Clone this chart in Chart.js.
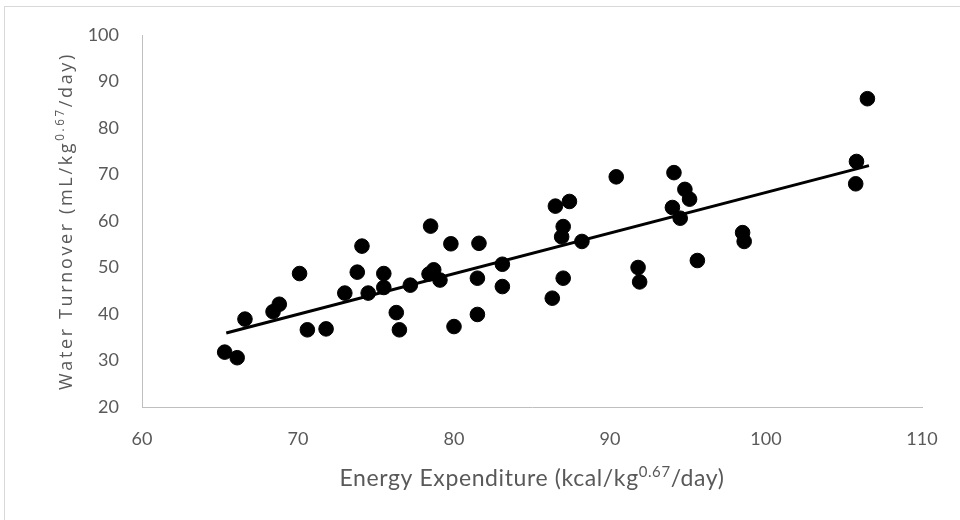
<!DOCTYPE html>
<html>
<head>
<meta charset="utf-8">
<script src="https://cdn.jsdelivr.net/npm/chart.js@4.4.1/dist/chart.umd.min.js"></script>
<style>
html,body{margin:0;padding:0;background:#fff;}
#wrap{width:960px;height:520px;position:relative;}
</style>
</head>
<body>
<div id="wrap"><canvas id="c" width="960" height="520"></canvas></div>
<script>
// Energy expenditure (kcal/kg^0.67/day)
const energyExpenditure = [
  65.3, 66.1, 66.6, 68.4, 68.8, 70.1, 70.6, 71.8, 73.0, 73.8,
  74.1, 74.5, 75.5, 75.5, 76.3, 76.5, 77.2, 78.4, 78.5, 78.7,
  79.1, 79.8, 80.0, 81.5, 81.5, 81.6, 83.1, 83.1, 86.3, 86.5,
  86.9, 87.0, 87.0, 87.4, 88.2, 90.4, 91.8, 91.9, 94.0, 94.1,
  94.5, 94.8, 95.1, 95.6, 98.5, 98.6, 105.75, 105.8, 106.5
];
// Water turnover (mL/kg^0.67/day)
const waterTurnover = [
  31.8, 30.6, 38.9, 40.5, 42.1, 48.7, 36.6, 36.8, 44.5, 49.0,
  54.6, 44.5, 48.7, 45.7, 40.3, 36.6, 46.2, 48.6, 58.9, 49.5,
  47.3, 55.1, 37.3, 47.7, 39.9, 55.2, 50.7, 45.9, 43.4, 63.2,
  56.6, 58.8, 47.7, 64.2, 55.6, 69.5, 50.0, 46.9, 62.9, 70.4,
  60.6, 66.8, 64.7, 51.5, 57.5, 55.6, 68.0, 72.8, 86.3
];
// Linear trendline endpoints
const trendX = [65.4, 106.6];
const trendY = [35.9, 71.9];

const xTicks = [60, 70, 80, 90, 100, 110];
const yTicks = [20, 30, 40, 50, 60, 70, 80, 90, 100];

const xTitleParts = ["Energy Expenditure (kcal/kg", "0.67", "/day)"];
const yTitleParts = ["Water Turnover (mL/kg", "0.67", "/day)"];

const GREY = '#595959';

function drawRich(ctx, parts, family, size, targetW, x, y, rotate, supRise) {
  ctx.save();
  ctx.fillStyle = GREY;
  ctx.textBaseline = 'alphabetic';
  ctx.textAlign = 'left';
  const supSize = size * 0.65;
  function widths() {
    ctx.font = size + 'px ' + family; const a = ctx.measureText(parts[0]).width;
    ctx.font = supSize + 'px ' + family; const b = ctx.measureText(parts[1]).width;
    ctx.font = size + 'px ' + family; const c = ctx.measureText(parts[2]).width;
    return [a, b, c];
  }
  ctx.letterSpacing = '0px';
  let w = widths();
  const nChars = parts.join('').length;
  let ls = (targetW - (w[0] + w[1] + w[2])) / nChars;
  if (ls < 0) ls = 0;
  ctx.letterSpacing = ls.toFixed(2) + 'px';
  w = widths();
  const tot = w[0] + w[1] + w[2];
  ctx.translate(x, y);
  if (rotate) ctx.rotate(-Math.PI / 2);
  let cx = -tot / 2;
  ctx.font = size + 'px ' + family; ctx.fillText(parts[0], cx, 0); cx += w[0];
  ctx.font = supSize + 'px ' + family; ctx.fillText(parts[1], cx, -supRise); cx += w[1];
  ctx.font = size + 'px ' + family; ctx.fillText(parts[2], cx, 0);
  ctx.restore();
}

const titlesPlugin = {
  id: 'richTitles',
  beforeDraw(chart) {
    const ctx = chart.ctx;
    ctx.save();
    ctx.fillStyle = '#fff';
    ctx.fillRect(0, 0, 960, 520);
    ctx.strokeStyle = '#d9d9d9';
    ctx.lineWidth = 1;
    ctx.strokeRect(4.5, 6.5, 1000, 1000);
    ctx.restore();
  },
  afterDraw(chart) {
    const ctx = chart.ctx;
    const a = chart.chartArea;
    drawRich(ctx, xTitleParts, 'Lato', 23, 385, (a.left + a.right) / 2, 486, false, 9);
    drawRich(ctx, yTitleParts, '"Open Sans"', 18, 338, 72, (a.top + a.bottom) / 2, true, 8);
  }
};

const points = energyExpenditure.map((x, i) => ({ x: x, y: waterTurnover[i] }));
const trend = trendX.map((x, i) => ({ x: x, y: trendY[i] }));

new Chart(document.getElementById('c'), {
  type: 'scatter',
  data: {
    datasets: [
      {
        label: 'Trendline',
        type: 'line',
        data: trend,
        borderColor: '#000',
        borderWidth: 3,
        pointRadius: 0,
        fill: false,
        order: 2
      },
      {
        label: 'Water Turnover',
        data: points,
        backgroundColor: '#000',
        borderColor: '#000',
        pointRadius: 7.3,
        pointHoverRadius: 7.3,
        order: 1
      }
    ]
  },
  options: {
    responsive: false,
    animation: false,
    layout: { padding: { left: 0, top: 35, right: 38, bottom: 0 } },
    plugins: { legend: { display: false }, tooltip: { enabled: false } },
    scales: {
      x: {
        type: 'linear',
        min: 60, max: 110,
        afterFit(s) { s.height = 113; },
        afterBuildTicks(s) { s.ticks = xTicks.map(v => ({ value: v })); },
        grid: { display: false, drawTicks: false },
        border: { display: true, color: '#bfbfbf', width: 1 },
        ticks: { color: GREY, font: { family: 'Lato', size: 18 }, padding: 21, maxRotation: 0 }
      },
      y: {
        type: 'linear',
        min: 20, max: 100,
        afterFit(s) { s.width = 142; },
        afterBuildTicks(s) { s.ticks = yTicks.map(v => ({ value: v })); },
        grid: { display: false, drawTicks: false },
        border: { display: true, color: '#bfbfbf', width: 1 },
        ticks: { color: GREY, font: { family: 'Lato', size: 18 }, padding: 23 }
      }
    }
  },
  plugins: [titlesPlugin]
});
</script>
</body>
</html>
